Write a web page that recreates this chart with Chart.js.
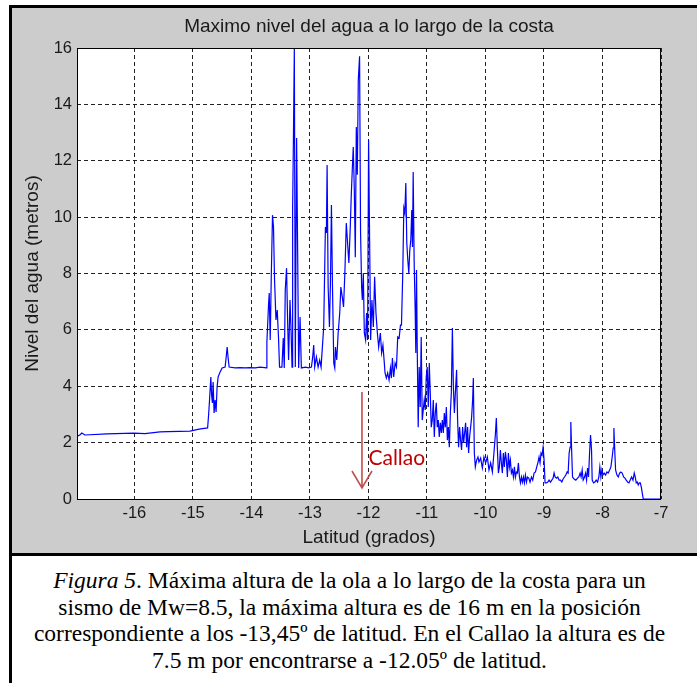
<!DOCTYPE html>
<html>
<head>
<meta charset="utf-8">
<script src="https://cdn.jsdelivr.net/npm/chart.js@4.4.0/dist/chart.umd.min.js"></script>
<style>
    body { margin: 0; width: 697px; height: 683px; overflow: hidden; position: relative; background: #fff; }
    #marco { position: absolute; left: 9px; top: 5px; width: 700px; height: 545px; background: #cccccc;
             border-top: 3px solid #000; border-left: 3px solid #000; border-bottom: 3px solid #000; }
    #grafico { position: absolute; left: 0; top: 0; }
    #leyenda { position: absolute; left: 9px; top: 556px; width: 688px; height: 127px; border-left: 3px solid #000;
               box-sizing: border-box; padding-top: 11px; padding-right: 10px; text-align: center; white-space: nowrap;
               font-family: 'Liberation Serif', 'Times New Roman', serif; font-size: 23.5px; line-height: 26.5px; color: #000; }
</style>
</head>
<body>
<div id="marco"></div>
<canvas id="grafico" width="697" height="553"></canvas>
<div id="leyenda"><i>Figura 5</i>. Máxima altura de la ola a lo largo de la costa para un<br>sismo de Mw=8.5, la máxima altura es de 16 m en la posición<br>correspondiente a los -13,45º de latitud. En el Callao la altura es de<br>7.5 m por encontrarse a -12.05º de latitud.</div>

<script>
// --- Datos (latitud en grados, nivel en metros) ---
const latitud = [
    -16.98, -16.979, -16.975, -16.932, -16.897, -16.846, -16.469, -16.007, -15.818, -15.562, -15.425, -15.048, -14.894, -14.748,
    -14.731, -14.717, -14.693, -14.680, -14.666, -14.654, -14.637, -14.620, -14.603, -14.586, -14.568, -14.534, -14.500,
    -14.449, -14.432, -14.414, -14.397, -14.380, -14.277, -14.192, -14.106, -14.021, -13.935, -13.849, -13.738,
    -13.735, -13.707, -13.695, -13.678, -13.661, -13.639, -13.622, -13.604, -13.580, -13.558,
    -13.536, -13.519, -13.478, -13.455, -13.438, -13.421, -13.399, -13.381, -13.364, -13.340,
    -13.322, -13.305, -13.295, -13.283, -13.266, -13.249, -13.227, -13.209, -13.192, -13.168,
    -13.146, -13.077, -13.021, -12.974, -12.952, -12.935, -12.918, -12.889, -12.860, -12.833,
    -12.809, -12.764, -12.735, -12.718, -12.706, -12.688, -12.666, -12.649, -12.632, -12.614,
    -12.592, -12.575, -12.563, -12.541, -12.517, -12.490, -12.471, -12.447, -12.425, -12.402,
    -12.378, -12.356, -12.334, -12.310, -12.293, -12.276, -12.259, -12.241, -12.224, -12.207,
    -12.190, -12.173, -12.151, -12.134, -12.116, -12.104, -12.087, -12.070, -12.048, -12.031,
    -12.014, -11.997, -11.979, -11.962, -11.940, -11.916, -11.894, -11.871, -11.847, -11.825,
    -11.796, -11.774, -11.752, -11.728,
    -11.716, -11.693, -11.671, -11.647, -11.624, -11.607, -11.590, -11.568, -11.544, -11.521,
    -11.499, -11.475, -11.452, -11.435, -11.413, -11.395, -11.378, -11.361, -11.344, -11.327,
    -11.310, -11.293, -11.276, -11.259, -11.247, -11.235, -11.218, -11.201, -11.190, -11.178,
    -11.166, -11.149, -11.132, -11.115, -11.098, -11.080, -11.063, -11.046, -11.029, -11.012,
    -10.995, -10.977, -10.960, -10.943, -10.926, -10.909, -10.891, -10.874, -10.857, -10.840,
    -10.823, -10.806, -10.789, -10.771, -10.754, -10.737, -10.720, -10.703, -10.686, -10.668,
    -10.651, -10.634, -10.617, -10.600, -10.583, -10.565, -10.548, -10.531, -10.514, -10.493,
    -10.476, -10.459, -10.442, -10.425, -10.408, -10.390, -10.373, -10.356, -10.339, -10.322,
    -10.305, -10.288, -10.271, -10.253, -10.236, -10.219, -10.207, -10.190, -10.173, -10.151,
    -10.128, -10.111, -10.082, -10.053, -10.026, -9.997, -9.968, -9.940, -9.911, -9.882,
    -9.855, -9.831, -9.814, -9.797, -9.779, -9.762, -9.745, -9.728, -9.711, -9.694,
    -9.677, -9.659, -9.642, -9.625, -9.608, -9.591, -9.574, -9.557, -9.539, -9.522,
    -9.505, -9.488, -9.471, -9.454, -9.437, -9.419, -9.402, -9.385, -9.368, -9.351,
    -9.334, -9.317, -9.299, -9.282, -9.260, -9.238, -9.214, -9.192, -9.169, -9.145,
    -9.123, -9.101, -9.084, -9.067, -9.050, -9.032, -9.015, -8.998, -8.981, -8.957,
    -8.935, -8.913, -8.889, -8.866, -8.844, -8.827, -8.810, -8.786, -8.764, -8.741,
    -8.717, -8.695, -8.673, -8.649, -8.627, -8.604, -8.587, -8.570, -8.553, -8.541,
    -8.529, -8.512, -8.485, -8.455, -8.426, -8.404, -8.382, -8.365, -8.347, -8.330,
    -8.313, -8.289, -8.272, -8.255, -8.238, -8.221, -8.204, -8.187, -8.176, -8.152,
    -8.130, -8.108, -8.084, -8.062, -8.045, -8.027, -8.010, -7.993, -7.971, -7.947,
    -7.925, -7.902, -7.878, -7.856, -7.834, -7.817, -7.805, -7.793, -7.776, -7.753,
    -7.731, -7.707, -7.685, -7.663, -7.639, -7.616, -7.594, -7.570, -7.548, -7.526,
    -7.502, -7.479, -7.457, -7.440, -7.423, -7.406, -7.389, -7.371, -7.354, -7.337,
    -7.320, -7.303, -7.000
];

const nivel = [
    0, 1.14, 2.23, 2.27, 2.34, 2.27, 2.31, 2.34, 2.32, 2.38, 2.39, 2.41, 2.48, 2.52,
    2.98, 3.44, 4.33, 3.69, 3.41, 4.15, 3.05, 3.51, 3.09, 3.97, 4.33, 4.51, 4.65,
    4.68, 5.00, 5.39, 5.00, 4.68, 4.65, 4.66, 4.65, 4.66, 4.65, 4.68, 4.65,
    5.57, 6.88, 7.31, 5.64, 7.77, 10.07, 9.65, 7.77, 6.35, 6.70,
    5.71, 4.68, 4.68, 5.71, 4.65, 7.41, 8.19, 6.35, 4.93, 7.06,
    6.00, 4.68, 10.36, 12.49, 16.00, 4.68, 12.81, 8.73, 4.65, 6.46,
    4.65, 4.68, 4.65, 4.68, 5.04, 5.46, 4.68, 5.04, 4.68, 4.93,
    4.68, 6.10, 9.65, 9.44, 11.85, 7.52, 6.10, 7.66, 10.43, 7.52,
    4.82, 4.65, 5.39, 4.93, 5.89, 6.60, 7.52, 7.17, 6.81, 8.05,
    9.79, 9.08, 8.37, 9.65, 10.78, 11.67, 12.49, 10.96, 8.58, 13.20,
    11.50, 14.86, 15.71, 9.44, 7.52, 7.06, 8.02, 5.89, 5.64, 6.60,
    5.64, 12.74, 9.12, 5.64, 7.06, 6.10, 7.88, 6.60, 5.89, 5.39,
    5.89, 5.18, 5.46, 4.82,
    4.47, 4.29, 4.47, 4.22, 4.65, 4.29, 5.00, 4.33, 4.82, 4.68,
    5.75, 5.71, 6.17, 6.17, 8.02, 10.32, 10.15, 11.21, 9.08, 8.48,
    8.02, 8.83, 9.19, 10.25, 8.94, 11.60, 8.37, 6.70, 5.18, 8.12,
    5.39, 2.55, 4.68, 3.26, 5.75, 2.80, 3.16, 3.51, 3.16, 4.33,
    4.68, 3.26, 4.82, 3.76, 2.55, 2.80, 3.51, 2.20, 3.05, 3.41,
    2.55, 2.80, 2.20, 2.70, 2.34, 2.80, 2.34, 3.05, 2.55, 3.26,
    2.09, 2.55, 1.84, 3.05, 3.76, 6.07, 3.97, 3.05, 3.76, 4.58,
    2.80, 1.84, 2.55, 2.09, 1.74, 2.55, 1.99, 2.34, 2.70, 1.84,
    2.55, 1.63, 2.20, 2.55, 2.91, 3.51, 4.29, 1.63, 1.14, 1.38,
    1.49, 1.31, 1.45, 1.10, 1.49, 1.28, 1.49, 1.03, 1.28, 0.96,
    1.63, 2.27, 2.87, 1.84, 0.92, 1.14, 1.74, 1.28, 0.92, 1.63,
    1.14, 1.67, 1.38, 0.78, 1.63, 1.14, 1.38, 0.92, 1.03, 0.78,
    1.14, 0.78, 0.96, 0.92, 1.28, 0.78, 0.57, 0.78, 0.60, 0.78,
    0.57, 0.85, 0.60, 0.78, 0.74, 0.60, 0.78, 0.67, 0.92, 0.96,
    1.14, 1.31, 1.49, 1.28, 1.63, 1.56, 1.84, 1.38, 0.57, 0.57,
    0.60, 0.67, 0.60, 0.67, 0.74, 0.92, 0.78, 0.74, 0.78, 0.67,
    0.67, 0.60, 0.71, 0.78, 0.85, 0.96, 0.92, 1.63, 1.84, 2.73,
    1.84, 0.78, 0.71, 0.67, 0.74, 0.78, 0.92, 0.78, 1.03, 0.67,
    0.74, 0.92, 0.67, 1.10, 0.78, 1.63, 2.27, 1.74, 0.67, 0.57,
    0.60, 0.67, 0.60, 0.78, 1.14, 0.78, 1.03, 0.85, 0.92, 0.85,
    0.96, 0.92, 1.03, 1.14, 1.49, 1.81, 2.52, 1.84, 1.03, 0.85,
    0.78, 0.92, 0.96, 0.92, 0.78, 0.74, 0.67, 0.60, 0.57, 0.67,
    0.78, 0.67, 0.92, 0.78, 0.57, 0.60, 0.50, 0.57, 0.57, 0.43,
    0.21, 0, 0
];

const marcasLatitud = [-16, -15, -14, -13, -12, -11, -10, -9, -8, -7];
const marcasNivel = [0, 2, 4, 6, 8, 10, 12, 14, 16];

// Callao: flecha y etiqueta
const callaoLat = -12.11;
const flechaInicio = 3.8;
const flechaFin = 0.39;
const callaoTextoLat = -12.0;
const callaoTextoNivel = 1.21;

const fuente = "'Liberation Sans', Arial, sans-serif";

// --- Plugins ---
const areaBlanca = {
    id: 'areaBlanca',
    beforeDraw(chart) {
        const { ctx, chartArea: a } = chart;
        ctx.save();
        ctx.fillStyle = '#ffffff';
        ctx.fillRect(a.left, a.top, a.right - a.left, a.bottom - a.top);
        ctx.restore();
    },
    afterDatasetsDraw(chart) {
        const { ctx, chartArea: a } = chart;
        ctx.save();
        ctx.strokeStyle = '#000000';
        ctx.lineWidth = 1;
        ctx.strokeRect(a.left + 0.5, a.top + 0.5, a.right - a.left - 1, a.bottom - a.top);
        ctx.restore();
    }
};

const flechaCallao = {
    id: 'flechaCallao',
    afterDatasetsDraw(chart) {
        const { ctx, scales } = chart;
        const x = scales.x.getPixelForValue(callaoLat);
        const y1 = scales.y.getPixelForValue(flechaInicio);
        const y2 = scales.y.getPixelForValue(flechaFin);
        ctx.save();
        ctx.strokeStyle = '#c0504d';
        ctx.lineWidth = 1.6;
        ctx.beginPath();
        ctx.moveTo(x, y1);
        ctx.lineTo(x, y2);
        ctx.moveTo(x - 10, y2 - 17);
        ctx.lineTo(x, y2);
        ctx.lineTo(x + 10, y2 - 17);
        ctx.stroke();
        ctx.fillStyle = '#c00000';
        ctx.font = "21px Lato, 'Open Sans', sans-serif";
        ctx.textBaseline = 'alphabetic';
        ctx.fillText('Callao', scales.x.getPixelForValue(callaoTextoLat), scales.y.getPixelForValue(callaoTextoNivel));
        ctx.restore();
    }
};

// --- Grafico ---
new Chart(document.getElementById('grafico'), {
    type: 'line',
    data: {
        datasets: [{
            data: latitud.map((lat, i) => ({ x: lat, y: nivel[i] })),
            borderColor: '#0000ff',
            borderWidth: 1.2,
            pointRadius: 0,
            tension: 0,
            fill: false
        }]
    },
    options: {
        responsive: false,
        animation: false,
        devicePixelRatio: 1,
        layout: { padding: { left: 12, right: 36, top: 8, bottom: 0 } },
        plugins: {
            legend: { display: false },
            tooltip: { enabled: false },
            title: {
                display: true,
                text: 'Maximo nivel del agua a lo largo de la costa',
                fullSize: false,
                color: '#1a1a1a',
                font: { family: fuente, size: 19, weight: 'normal' },
                padding: { top: 7.6, bottom: 9.6 }
            }
        },
        scales: {
            x: {
                type: 'linear',
                min: -16.98,
                max: -7,
                afterBuildTicks: (scale) => { scale.ticks = marcasLatitud.map(v => ({ value: v })); },
                afterFit: (scale) => { scale.height = 54; },
                ticks: {
                    padding: 5,
                    color: '#1a1a1a',
                    font: { family: fuente, size: 16.5 },
                    callback: (v) => String(v)
                },
                grid: { color: '#222222', lineWidth: 1, drawTicks: false },
                border: { display: false, dash: [4, 3] },
                title: {
                    display: true,
                    text: 'Latitud (grados)',
                    color: '#1a1a1a',
                    font: { family: fuente, size: 19 },
                    padding: { top: 0, bottom: 3.6 }
                }
            },
            y: {
                type: 'linear',
                min: 0,
                max: 16,
                afterBuildTicks: (scale) => { scale.ticks = marcasNivel.map(v => ({ value: v })); },
                afterFit: (scale) => { scale.width = 65; },
                ticks: {
                    padding: 5,
                    color: '#1a1a1a',
                    font: { family: fuente, size: 16.5 },
                    callback: (v) => String(v)
                },
                grid: { color: '#222222', lineWidth: 1, drawTicks: false },
                border: { display: false, dash: [4, 3] },
                title: {
                    display: true,
                    text: 'Nivel del agua (metros)',
                    color: '#1a1a1a',
                    font: { family: fuente, size: 19 },
                    padding: { top: 9, bottom: 0 }
                }
            }
        }
    },
    plugins: [areaBlanca, flechaCallao]
});
</script>
</body>
</html>
